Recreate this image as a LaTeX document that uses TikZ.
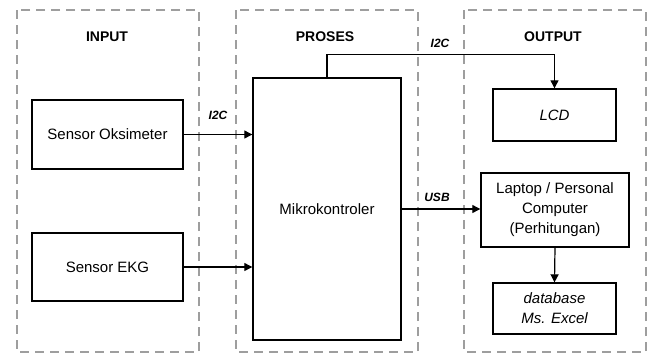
\documentclass[tikz,border=0pt]{standalone}
\usepackage{fontspec}
\setmainfont{Liberation Sans}
\usepackage{tikz}
\usetikzlibrary{arrows.meta}
\tikzstyle{Block}=[rectangle, draw=black, line width=1.4pt, align=center, font=\fontsize{15}{20}\selectfont]
\tikzstyle{Group}=[draw=black!38, line width=1.4pt, dash pattern=on 9pt off 6pt]
\tikzstyle{Title}=[font=\bfseries\fontsize{14}{16}\selectfont]
\tikzstyle{Bus}=[font=\bfseries\itshape\fontsize{12}{14}\selectfont]

\begin{document}
\begin{tikzpicture}[x=1pt, y=-1pt, >={Triangle[length=8pt,width=8pt]}]
    \useasboundingbox (0,0) rectangle (651,354);
    \draw[Group] (17,10) rectangle (199,352);
    \draw[Group] (236,10) rectangle (418,352);
    \draw[Group] (464,10) rectangle (646,352);

    \path
    (107,37) node[Title] (tin) {INPUT}
    (325,37) node[Title] (tproc) {PROSES}
    (553,37) node[Title] (tout) {OUTPUT}
    (107.5,134.5) node[Block, minimum width=151, minimum height=69] (oksi) {Sensor Oksimeter}
    (107.5,267) node[Block, minimum width=151, minimum height=68] (ekg) {Sensor EKG}
    (327,209) node[Block, minimum width=148, minimum height=262] (mcu) {Mikrokontroler}
    (554.5,115) node[Block, minimum width=123, minimum height=52] (lcd) {\itshape LCD}
    (555,210) node[Block, minimum width=148, minimum height=74] (pc) {Laptop / Personal\\Computer\\(Perhitungan)}
    (554.5,308.5) node[Block, minimum width=123, minimum height=51] (db) {\itshape database\\\itshape Ms. Excel};

    \path (218,115) node[Bus] (i2ca) {I2C}
    (440,43) node[Bus] (i2cb) {I2C}
    (437,197) node[Bus] (usb) {USB};

    \draw[->, line width=1.2pt] (oksi.east) -- (oksi.east -| mcu.west);
    \draw[->, line width=1.2pt] (ekg.east) -- (ekg.east -| mcu.west);
    \draw[->, line width=1.2pt] (mcu.north) -- ++(0,-23) -| (lcd.north);
    \draw[->, line width=1.2pt] (mcu.east) -- (mcu.east -| pc.west);
    \draw[->, line width=1.2pt] (pc.south) -- (db.north);
\end{tikzpicture}
\end{document}
